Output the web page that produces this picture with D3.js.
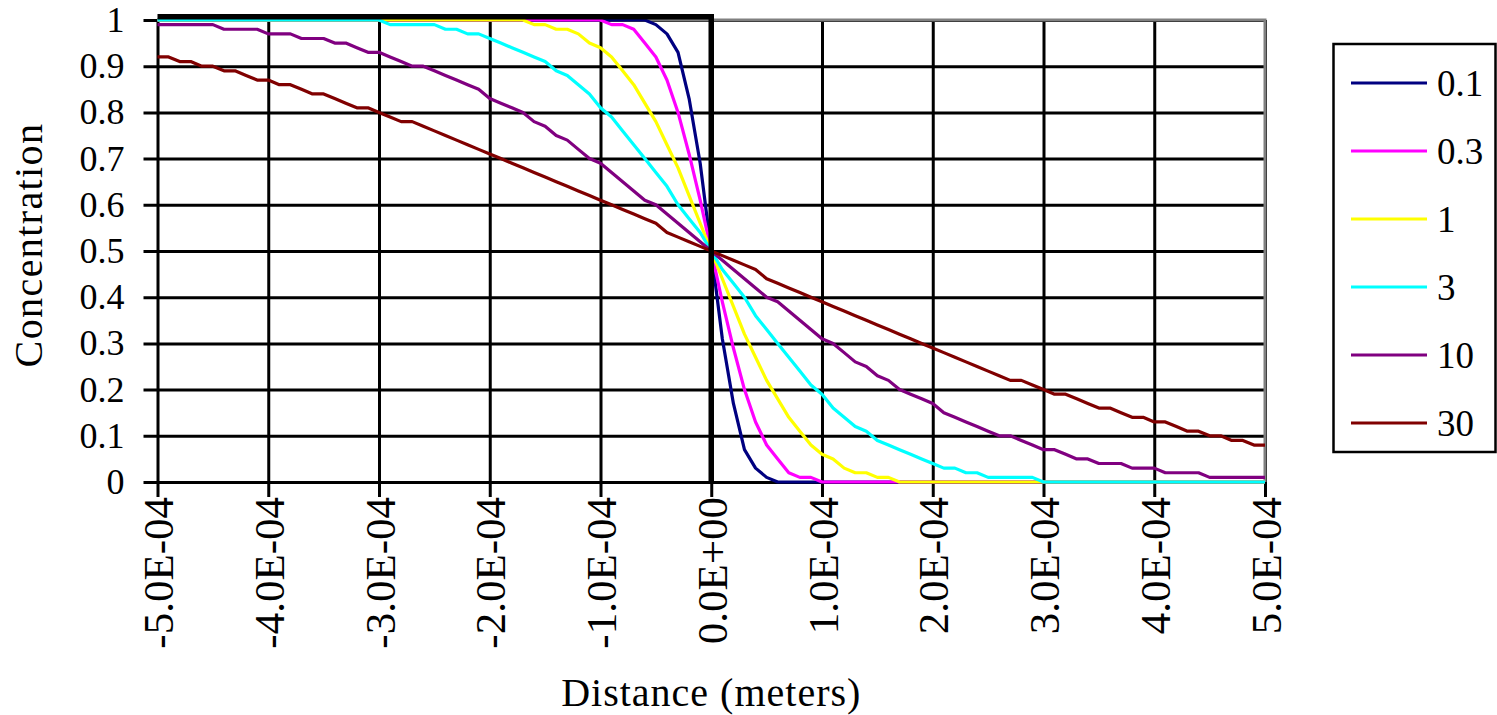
<!DOCTYPE html>
<html>
<head>
<meta charset="utf-8">
<script src="https://d3js.org/d3.v7.min.js"></script>
<style>
    body { margin: 0; background: #fff; }
    text { font-family: "Liberation Serif", "Times New Roman", serif; fill: #000; }
</style>
</head>
<body>
<svg width="1497" height="715"></svg>
<script>
// distance in meters, one point every 1.0E-05
var distance = [
    -5.0e-4, -4.9e-4, -4.8e-4, -4.7e-4, -4.6e-4, -4.5e-4, -4.4e-4, -4.3e-4, -4.2e-4, -4.1e-4,
    -4.0e-4, -3.9e-4, -3.8e-4, -3.7e-4, -3.6e-4, -3.5e-4, -3.4e-4, -3.3e-4, -3.2e-4, -3.1e-4,
    -3.0e-4, -2.9e-4, -2.8e-4, -2.7e-4, -2.6e-4, -2.5e-4, -2.4e-4, -2.3e-4, -2.2e-4, -2.1e-4,
    -2.0e-4, -1.9e-4, -1.8e-4, -1.7e-4, -1.6e-4, -1.5e-4, -1.4e-4, -1.3e-4, -1.2e-4, -1.1e-4,
    -1.0e-4, -0.9e-4, -0.8e-4, -0.7e-4, -0.6e-4, -0.5e-4, -0.4e-4, -0.3e-4, -0.2e-4, -0.1e-4,
    0,
    0.1e-4, 0.2e-4, 0.3e-4, 0.4e-4, 0.5e-4, 0.6e-4, 0.7e-4, 0.8e-4, 0.9e-4, 1.0e-4,
    1.1e-4, 1.2e-4, 1.3e-4, 1.4e-4, 1.5e-4, 1.6e-4, 1.7e-4, 1.8e-4, 1.9e-4, 2.0e-4,
    2.1e-4, 2.2e-4, 2.3e-4, 2.4e-4, 2.5e-4, 2.6e-4, 2.7e-4, 2.8e-4, 2.9e-4, 3.0e-4,
    3.1e-4, 3.2e-4, 3.3e-4, 3.4e-4, 3.5e-4, 3.6e-4, 3.7e-4, 3.8e-4, 3.9e-4, 4.0e-4,
    4.1e-4, 4.2e-4, 4.3e-4, 4.4e-4, 4.5e-4, 4.6e-4, 4.7e-4, 4.8e-4, 4.9e-4, 5.0e-4
];

var conc01 = [
    1, 1, 1, 1, 1, 1, 1, 1, 1, 1,
    1, 1, 1, 1, 1, 1, 1, 1, 1, 1,
    1, 1, 1, 1, 1, 1, 1, 1, 1, 1,
    1, 1, 1, 1, 1, 1, 1, 1, 1, 1,
    1, 1, 1, 1, 1, 0.99, 0.97, 0.93, 0.83, 0.69,
    0.5,
    0.31, 0.17, 0.07, 0.03, 0.01, 0, 0, 0, 0, 0,
    0, 0, 0, 0, 0, 0, 0, 0, 0, 0,
    0, 0, 0, 0, 0, 0, 0, 0, 0, 0,
    0, 0, 0, 0, 0, 0, 0, 0, 0, 0,
    0, 0, 0, 0, 0, 0, 0, 0, 0, 0
];

var conc03 = [
    1, 1, 1, 1, 1, 1, 1, 1, 1, 1,
    1, 1, 1, 1, 1, 1, 1, 1, 1, 1,
    1, 1, 1, 1, 1, 1, 1, 1, 1, 1,
    1, 1, 1, 1, 1, 1, 1, 1, 1, 1,
    1, 0.99, 0.99, 0.98, 0.95, 0.92, 0.87, 0.80, 0.71, 0.61,
    0.5,
    0.39, 0.29, 0.20, 0.13, 0.08, 0.05, 0.02, 0.01, 0.01, 0,
    0, 0, 0, 0, 0, 0, 0, 0, 0, 0,
    0, 0, 0, 0, 0, 0, 0, 0, 0, 0,
    0, 0, 0, 0, 0, 0, 0, 0, 0, 0,
    0, 0, 0, 0, 0, 0, 0, 0, 0, 0
];

var conc1 = [
    1, 1, 1, 1, 1, 1, 1, 1, 1, 1,
    1, 1, 1, 1, 1, 1, 1, 1, 1, 1,
    1, 1, 1, 1, 1, 1, 1, 1, 1, 1,
    1, 1, 1, 1, 0.99, 0.99, 0.98, 0.98, 0.97, 0.95,
    0.94, 0.92, 0.89, 0.86, 0.82, 0.78, 0.73, 0.68, 0.62, 0.56,
    0.5,
    0.44, 0.38, 0.32, 0.27, 0.22, 0.18, 0.14, 0.11, 0.08, 0.06,
    0.05, 0.03, 0.02, 0.02, 0.01, 0.01, 0, 0, 0, 0,
    0, 0, 0, 0, 0, 0, 0, 0, 0, 0,
    0, 0, 0, 0, 0, 0, 0, 0, 0, 0,
    0, 0, 0, 0, 0, 0, 0, 0, 0, 0
];

var conc3 = [
    1, 1, 1, 1, 1, 1, 1, 1, 1, 1,
    1, 1, 1, 1, 1, 1, 1, 1, 1, 1,
    1, 0.99, 0.99, 0.99, 0.99, 0.99, 0.98, 0.98, 0.97, 0.97,
    0.96, 0.95, 0.94, 0.93, 0.92, 0.91, 0.89, 0.88, 0.86, 0.84,
    0.81, 0.79, 0.76, 0.73, 0.70, 0.67, 0.64, 0.60, 0.57, 0.54,
    0.5,
    0.46, 0.43, 0.40, 0.36, 0.33, 0.30, 0.27, 0.24, 0.21, 0.19,
    0.16, 0.14, 0.12, 0.11, 0.09, 0.08, 0.07, 0.06, 0.05, 0.04,
    0.03, 0.03, 0.02, 0.02, 0.01, 0.01, 0.01, 0.01, 0.01, 0,
    0, 0, 0, 0, 0, 0, 0, 0, 0, 0,
    0, 0, 0, 0, 0, 0, 0, 0, 0, 0
];

var conc10 = [
    0.99, 0.99, 0.99, 0.99, 0.99, 0.99, 0.98, 0.98, 0.98, 0.98,
    0.97, 0.97, 0.97, 0.96, 0.96, 0.96, 0.95, 0.95, 0.94, 0.93,
    0.93, 0.92, 0.91, 0.90, 0.90, 0.89, 0.88, 0.87, 0.86, 0.85,
    0.83, 0.82, 0.81, 0.80, 0.78, 0.77, 0.75, 0.74, 0.72, 0.70,
    0.69, 0.67, 0.65, 0.63, 0.61, 0.60, 0.58, 0.56, 0.54, 0.52,
    0.5,
    0.48, 0.46, 0.44, 0.42, 0.40, 0.39, 0.37, 0.35, 0.33, 0.31,
    0.30, 0.28, 0.26, 0.25, 0.23, 0.22, 0.20, 0.19, 0.18, 0.17,
    0.15, 0.14, 0.13, 0.12, 0.11, 0.10, 0.10, 0.09, 0.08, 0.07,
    0.07, 0.06, 0.05, 0.05, 0.04, 0.04, 0.04, 0.03, 0.03, 0.03,
    0.02, 0.02, 0.02, 0.02, 0.01, 0.01, 0.01, 0.01, 0.01, 0.01
];

var conc30 = [
    0.92, 0.92, 0.91, 0.91, 0.90, 0.90, 0.89, 0.89, 0.88, 0.87,
    0.87, 0.86, 0.86, 0.85, 0.84, 0.84, 0.83, 0.82, 0.81, 0.81,
    0.80, 0.79, 0.78, 0.78, 0.77, 0.76, 0.75, 0.74, 0.73, 0.72,
    0.71, 0.70, 0.69, 0.68, 0.67, 0.66, 0.65, 0.64, 0.63, 0.62,
    0.61, 0.60, 0.59, 0.58, 0.57, 0.56, 0.54, 0.53, 0.52, 0.51,
    0.5,
    0.49, 0.48, 0.47, 0.46, 0.44, 0.43, 0.42, 0.41, 0.40, 0.39,
    0.38, 0.37, 0.36, 0.35, 0.34, 0.33, 0.32, 0.31, 0.30, 0.29,
    0.28, 0.27, 0.26, 0.25, 0.24, 0.23, 0.22, 0.22, 0.21, 0.20,
    0.19, 0.19, 0.18, 0.17, 0.16, 0.16, 0.15, 0.14, 0.14, 0.13,
    0.13, 0.12, 0.11, 0.11, 0.10, 0.10, 0.09, 0.09, 0.08, 0.08
];

// initial step profile (thick black line, not in legend)
var initialX = [-5.0e-4, 0, 0];
var initialY = [1.007, 1.007, 0];

var seriesNames = ["0.1", "0.3", "1", "3", "10", "30"];
var seriesColors = ["#000080", "#ff00ff", "#ffff00", "#00ffff", "#800080", "#800000"];
var seriesValues = [conc01, conc03, conc1, conc3, conc10, conc30];

var yTicks = [0, 0.1, 0.2, 0.3, 0.4, 0.5, 0.6, 0.7, 0.8, 0.9, 1];
var yTickLabels = ["0", "0.1", "0.2", "0.3", "0.4", "0.5", "0.6", "0.7", "0.8", "0.9", "1"];
var xTicks = [-5e-4, -4e-4, -3e-4, -2e-4, -1e-4, 0, 1e-4, 2e-4, 3e-4, 4e-4, 5e-4];
var xTickLabels = ["-5.0E-04", "-4.0E-04", "-3.0E-04", "-2.0E-04", "-1.0E-04", "0.0E+00",
    "1.0E-04", "2.0E-04", "3.0E-04", "4.0E-04", "5.0E-04"];

var svg = d3.select("svg"),
    width = +svg.attr("width"),
    height = +svg.attr("height");

var plotLeft = 157.5, plotRight = 1265, plotTop = 20, plotBottom = 482;

var x = d3.scaleLinear().domain([-5e-4, 5e-4]).range([plotLeft, plotRight]);
var y = d3.scaleLinear().domain([0, 1]).range([plotBottom, plotTop]);

// horizontal grid lines + ticks
var yAxis = svg.append("g")
    .attr("transform", "translate(" + plotLeft + ",0)")
    .call(d3.axisLeft(y)
        .tickValues(yTicks)
        .tickFormat(function(d, i) { return yTickLabels[i]; })
        .tickSize(-(plotRight - plotLeft))
        .tickPadding(33));
yAxis.select(".domain").remove();
yAxis.selectAll(".tick line")
    .attr("x1", -14)
    .attr("stroke", "#000")
    .attr("stroke-width", 3);
yAxis.selectAll(".tick text")
    .style("font-size", "36px");

// vertical grid lines + ticks
var xAxis = svg.append("g")
    .attr("transform", "translate(0," + plotBottom + ")")
    .call(d3.axisBottom(x)
        .tickValues(xTicks)
        .tickFormat(function(d, i) { return xTickLabels[i]; })
        .tickSize(-(plotBottom - plotTop)));
xAxis.select(".domain").remove();
xAxis.selectAll(".tick line")
    .attr("y1", 15)
    .attr("stroke", "#000")
    .attr("stroke-width", 3);
xAxis.selectAll(".tick text")
    .attr("y", 0)
    .attr("x", -15)
    .attr("dy", "0.35em")
    .attr("transform", "rotate(-90)")
    .style("text-anchor", "end")
    .style("font-size", "43px");

// grey plot border on top and right
svg.append("path")
    .attr("d", "M" + plotLeft + "," + plotTop + "H" + plotRight + "V" + plotBottom)
    .attr("fill", "none")
    .attr("stroke", "#808080")
    .attr("stroke-width", 3);

var line = d3.line()
    .x(function(d, i) { return x(distance[i]); })
    .y(function(d) { return y(d); });

svg.append("g")
    .selectAll("path")
    .data(seriesValues)
    .enter().append("path")
    .attr("d", line)
    .attr("fill", "none")
    .attr("stroke", function(d, i) { return seriesColors[i]; })
    .attr("stroke-width", 3.2)
    .attr("stroke-linejoin", "round");

var stepLine = d3.line()
    .x(function(d, i) { return x(initialX[i]); })
    .y(function(d) { return y(d); });

svg.append("path")
    .datum(initialY)
    .attr("d", stepLine)
    .attr("fill", "none")
    .attr("stroke", "#000")
    .attr("stroke-width", 5.5)
    .attr("stroke-linejoin", "miter");

// axis titles
svg.append("text")
    .attr("x", (plotLeft + plotRight) / 2)
    .attr("y", 706)
    .style("text-anchor", "middle")
    .style("font-size", "40px")
    .style("letter-spacing", "1px")
    .text("Distance (meters)");

svg.append("text")
    .attr("transform", "translate(42,245) rotate(-90)")
    .style("text-anchor", "middle")
    .style("font-size", "40px")
    .style("letter-spacing", "1.4px")
    .text("Concentration");

// legend
var legend = svg.append("g");
legend.append("rect")
    .attr("x", 1333.5)
    .attr("y", 44)
    .attr("width", 162)
    .attr("height", 408)
    .attr("fill", "#fff")
    .attr("stroke", "#000")
    .attr("stroke-width", 2.5);

var item = legend.selectAll(".item")
    .data(seriesNames)
    .enter().append("g")
    .attr("class", "item")
    .attr("transform", function(d, i) { return "translate(0," + (83 + i * 68) + ")"; });

item.append("line")
    .attr("x1", 1351)
    .attr("x2", 1427)
    .attr("stroke", function(d, i) { return seriesColors[i]; })
    .attr("stroke-width", 3);

item.append("text")
    .attr("x", 1437)
    .attr("dy", "0.35em")
    .style("font-size", "37px")
    .text(function(d) { return d; });
</script>
</body>
</html>
